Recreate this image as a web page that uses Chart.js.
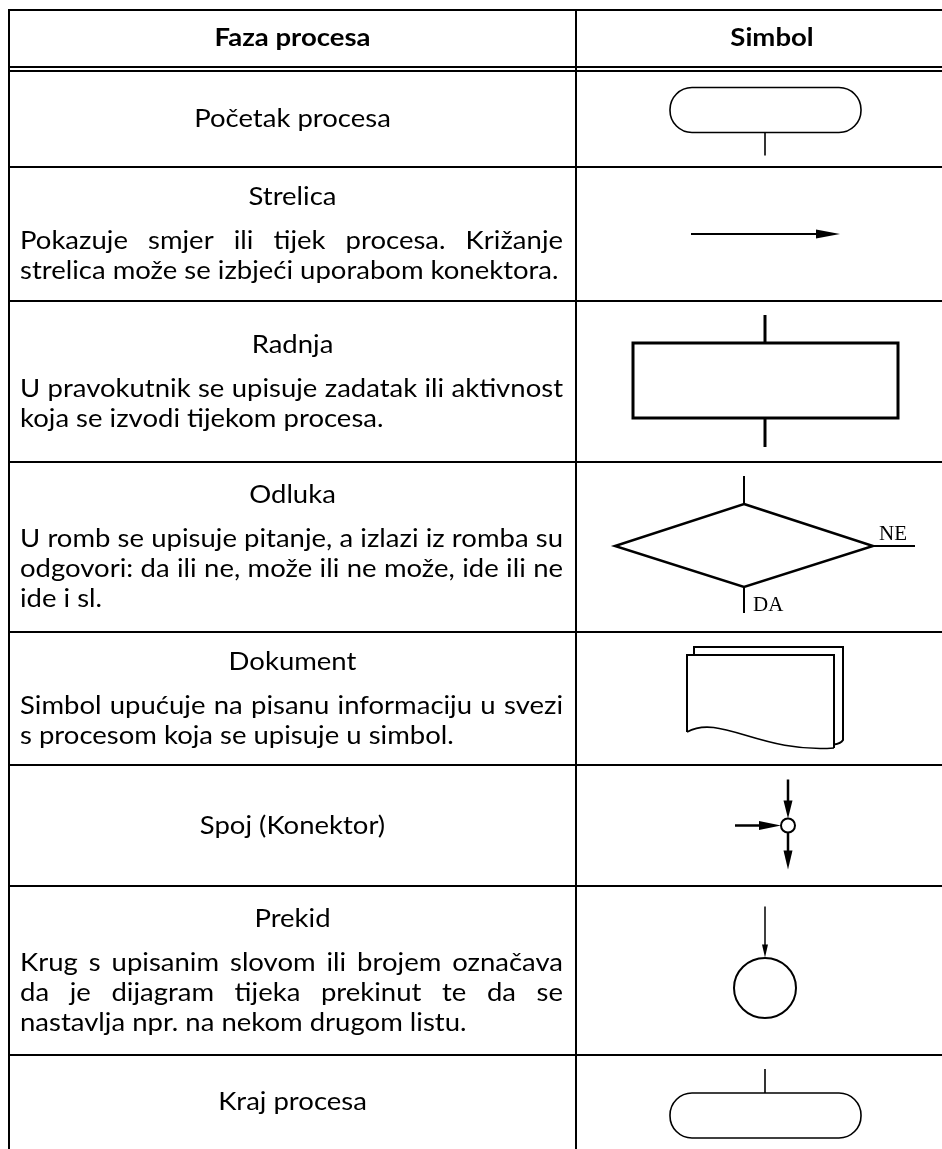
<!DOCTYPE html>
<html>
<head>
<meta charset="utf-8">
<script src="https://cdn.jsdelivr.net/npm/chart.js@4.4.0/dist/chart.umd.min.js"></script>
<style>
  html, body { margin: 0; padding: 0; background: #fff; }
  canvas { display: block; }
</style>
</head>
<body>
<canvas id="tablica" width="942" height="1149"></canvas>
<script>
// podaci tablice
const headers = ['Faza procesa', 'Simbol'];
const phases = ['Početak procesa', 'Strelica', 'Radnja', 'Odluka', 'Dokument', 'Spoj (Konektor)', 'Prekid', 'Kraj procesa'];
const descriptions = [
    [],
    ['Pokazuje smjer ili tijek procesa. Križanje', 'strelica može se izbjeći uporabom konektora.'],
    ['U pravokutnik se upisuje zadatak ili aktivnost', 'koja se izvodi tijekom procesa.'],
    ['U romb se upisuje pitanje, a izlazi iz romba su', 'odgovori: da ili ne, može ili ne može, ide ili ne', 'ide i sl.'],
    ['Simbol upućuje na pisanu informaciju u svezi', 's procesom koja se upisuje u simbol.'],
    [],
    ['Krug s upisanim slovom ili brojem označava', 'da je dijagram tijeka prekinut te da se', 'nastavlja npr. na nekom drugom listu.'],
    []
];
const symbols = ['pocetak', 'strelica', 'radnja', 'odluka', 'dokument', 'spoj', 'prekid', 'kraj'];
const decisionLabels = ['NE', 'DA'];

// raspored (jedinice skale = pikseli stranice)
const rowEdges = [10, 68, 167, 301, 462, 632, 765, 886, 1055, 1149];
const colLeft = 9, colSplit = 576, colRight = 942;
const textLeft = 20, textRight = 563;
const symX = 765;
const FONT = 'Lato, "Open Sans", sans-serif';
const BODY_SIZE = 25;
const H_SCALE = 1.1; // Calibri-like proportions

function textLine(ctx, text, x0, x1, y, justify) {
    const words = text.split(' ');
    const widths = words.map(w => ctx.measureText(w).width);
    const wordsW = widths.reduce((s, w) => s + w, 0);
    const space = ctx.measureText(' ').width;
    const avail = (x1 - x0) / H_SCALE;
    let gap = justify ? (avail - wordsW) / (words.length - 1) : space;
    let sx = H_SCALE;
    const minGap = space * 0.6;
    if (wordsW + Math.max(gap, minGap) * (words.length - 1) > avail) {
        gap = Math.max(gap, minGap);
        sx = (x1 - x0) / (wordsW + gap * (words.length - 1));
    }
    ctx.save();
    ctx.translate(x0, y);
    ctx.scale(sx, 1);
    ctx.textAlign = 'left';
    let x = 0;
    words.forEach((w, i) => {
        ctx.fillText(w, x, 0);
        x += widths[i] + gap;
    });
    ctx.restore();
}

function centeredText(ctx, text, cx, y) {
    ctx.save();
    ctx.translate(cx, y);
    ctx.scale(H_SCALE, 1);
    ctx.textAlign = 'center';
    ctx.fillText(text, 0, 0);
    ctx.restore();
}

function arrowHead(ctx, tipX, tipY, dx, dy, len, half) {
    const bx = tipX - dx * len, by = tipY - dy * len;
    ctx.beginPath();
    ctx.moveTo(tipX, tipY);
    ctx.lineTo(bx - dy * half, by + dx * half);
    ctx.lineTo(bx + dy * half, by - dx * half);
    ctx.closePath();
    ctx.fill();
}

function line(ctx, x0, y0, x1, y1) {
    ctx.beginPath();
    ctx.moveTo(x0, y0);
    ctx.lineTo(x1, y1);
    ctx.stroke();
}

function drawSymbol(ctx, kind, X, Y, cy) {
    ctx.save();
    ctx.strokeStyle = '#000';
    ctx.fillStyle = '#000';
    const sx = symX;
    if (kind === 'pocetak' || kind === 'kraj') {
        ctx.lineWidth = 1.6;
        const top = kind === 'pocetak' ? cy - 31.5 : cy - 9;
        ctx.beginPath();
        ctx.roundRect(X(sx - 95), Y(top), X(sx + 96) - X(sx - 95), Y(top + 45) - Y(top), 22);
        ctx.stroke();
        if (kind === 'pocetak') line(ctx, X(sx), Y(top + 45), X(sx), Y(top + 68));
        else line(ctx, X(sx), Y(top - 24), X(sx), Y(top));
    } else if (kind === 'strelica') {
        ctx.lineWidth = 2;
        line(ctx, X(sx - 74), Y(cy), X(sx + 60), Y(cy));
        arrowHead(ctx, X(sx + 75), Y(cy), 1, 0, 24, 4.5);
    } else if (kind === 'radnja') {
        ctx.lineWidth = 3;
        ctx.strokeRect(X(sx - 132), Y(cy - 38.5), X(sx + 133) - X(sx - 132), Y(cy + 36.5) - Y(cy - 38.5));
        line(ctx, X(sx), Y(cy - 66.5), X(sx), Y(cy - 38.5));
        line(ctx, X(sx), Y(cy + 36.5), X(sx), Y(cy + 65.5));
    } else if (kind === 'odluka') {
        ctx.lineWidth = 2.5;
        const dx = sx - 21;
        ctx.beginPath();
        ctx.moveTo(X(dx), Y(cy - 43));
        ctx.lineTo(X(dx + 129), Y(cy - 1));
        ctx.lineTo(X(dx), Y(cy + 40));
        ctx.lineTo(X(dx - 129), Y(cy - 1));
        ctx.closePath();
        ctx.stroke();
        ctx.lineWidth = 2;
        line(ctx, X(dx), Y(cy - 71), X(dx), Y(cy - 43));
        line(ctx, X(dx), Y(cy + 40), X(dx), Y(cy + 66));
        line(ctx, X(dx + 129), Y(cy - 1), X(dx + 171), Y(cy - 1));
        ctx.font = '21px "Liberation Serif", serif';
        ctx.textAlign = 'left';
        ctx.textBaseline = 'alphabetic';
        ctx.fillText(decisionLabels[0], X(dx + 135), Y(cy - 7));
        ctx.fillText(decisionLabels[1], X(dx + 9), Y(cy + 64));
    } else if (kind === 'dokument') {
        ctx.lineWidth = 2;
        // stražnji list
        ctx.beginPath();
        ctx.moveTo(X(sx - 71), Y(cy - 43.5));
        ctx.lineTo(X(sx - 71), Y(cy - 51.5));
        ctx.lineTo(X(sx + 78), Y(cy - 51.5));
        ctx.lineTo(X(sx + 78), Y(cy + 41.5));
        ctx.quadraticCurveTo(X(sx + 76), Y(cy + 45), X(sx + 69), Y(cy + 46));
        ctx.stroke();
        // prednji list
        ctx.beginPath();
        ctx.moveTo(X(sx - 78), Y(cy + 33.5));
        ctx.lineTo(X(sx - 78), Y(cy - 43.5));
        ctx.lineTo(X(sx + 69), Y(cy - 43.5));
        ctx.lineTo(X(sx + 69), Y(cy + 49.5));
        ctx.stroke();
        ctx.lineWidth = 1.6;
        ctx.beginPath();
        ctx.moveTo(X(sx - 78), Y(cy + 33.5));
        ctx.bezierCurveTo(X(sx - 45), Y(cy + 15), X(sx - 5), Y(cy + 55), X(sx + 69), Y(cy + 49.5));
        ctx.stroke();
    } else if (kind === 'spoj') {
        const cx = sx + 23;
        ctx.lineWidth = 2.5;
        line(ctx, X(cx), Y(cy - 46), X(cx), Y(cy - 18));
        arrowHead(ctx, X(cx), Y(cy - 7), 0, 1, 18, 4.5);
        line(ctx, X(cx), Y(cy + 7), X(cx), Y(cy + 28));
        arrowHead(ctx, X(cx), Y(cy + 44), 0, 1, 19, 4.5);
        line(ctx, X(cx - 53), Y(cy), X(cx - 25), Y(cy));
        arrowHead(ctx, X(cx - 7), Y(cy), 1, 0, 22, 4.5);
        ctx.lineWidth = 2;
        ctx.beginPath();
        ctx.arc(X(cx), Y(cy), 7, 0, Math.PI * 2);
        ctx.stroke();
    } else if (kind === 'prekid') {
        ctx.lineWidth = 1.5;
        line(ctx, X(sx), Y(cy - 64), X(sx), Y(cy - 25));
        arrowHead(ctx, X(sx), Y(cy - 13), 0, 1, 13, 3);
        ctx.lineWidth = 2;
        ctx.beginPath();
        ctx.ellipse(X(sx), Y(cy + 17.5), 31, 30, 0, 0, Math.PI * 2);
        ctx.stroke();
    }
    ctx.restore();
}

const tablePlugin = {
    id: 'tablica',
    afterDraw(chart) {
        const { ctx, scales: { x, y } } = chart;
        const X = v => x.getPixelForValue(v);
        const Y = v => y.getPixelForValue(v);
        ctx.save();
        ctx.fillStyle = '#000';
        ctx.strokeStyle = '#000';

        // okvir i crte tablice
        ctx.lineWidth = 2;
        line(ctx, X(colLeft), Y(rowEdges[0] - 1), X(colLeft), Y(1149));
        line(ctx, X(colSplit), Y(rowEdges[0]), X(colSplit), Y(1149));
        line(ctx, X(colLeft - 1), Y(rowEdges[0]), X(colRight), Y(rowEdges[0]));
        line(ctx, X(colLeft), Y(67), X(colRight), Y(67));
        line(ctx, X(colLeft), Y(71), X(colRight), Y(71));
        for (let i = 2; i < rowEdges.length - 1; i++) {
            line(ctx, X(colLeft), Y(rowEdges[i]), X(colRight), Y(rowEdges[i]));
        }

        // zaglavlje
        ctx.font = 'bold ' + BODY_SIZE + 'px ' + FONT;
        ctx.textBaseline = 'middle';
        centeredText(ctx, headers[0], X((colLeft + colSplit) / 2), Y(38));
        centeredText(ctx, headers[1], X(772), Y(38));

        // redovi
        phases.forEach((phase, i) => {
            const top = i === 0 ? 71 : rowEdges[i + 1];
            const bottom = rowEdges[i + 2];
            const cy = (top + bottom) / 2;
            const desc = descriptions[i];
            const offs = [0];
            desc.forEach((_, k) => offs.push(k === 0 ? 44 : offs[offs.length - 1] + 30));
            const y0 = cy - offs[offs.length - 1] / 2;

            ctx.font = BODY_SIZE + 'px ' + FONT;
            ctx.textBaseline = 'middle';
            centeredText(ctx, phase, X((colLeft + colSplit) / 2), Y(y0));
            desc.forEach((txt, k) => {
                textLine(ctx, txt, X(textLeft), X(textRight), Y(y0 + offs[k + 1]), k < desc.length - 1);
            });

            drawSymbol(ctx, symbols[i], X, Y, cy);
        });
        ctx.restore();
    }
};

new Chart(document.getElementById('tablica').getContext('2d'), {
    type: 'scatter',
    data: { datasets: [{ data: [] }] },
    options: {
        responsive: false,
        animation: false,
        layout: { padding: 0 },
        scales: {
            x: { type: 'linear', min: 0, max: 942, display: false },
            y: { type: 'linear', min: 0, max: 1149, reverse: true, display: false }
        },
        plugins: { legend: { display: false }, tooltip: { enabled: false } }
    },
    plugins: [tablePlugin]
});
</script>
</body>
</html>
